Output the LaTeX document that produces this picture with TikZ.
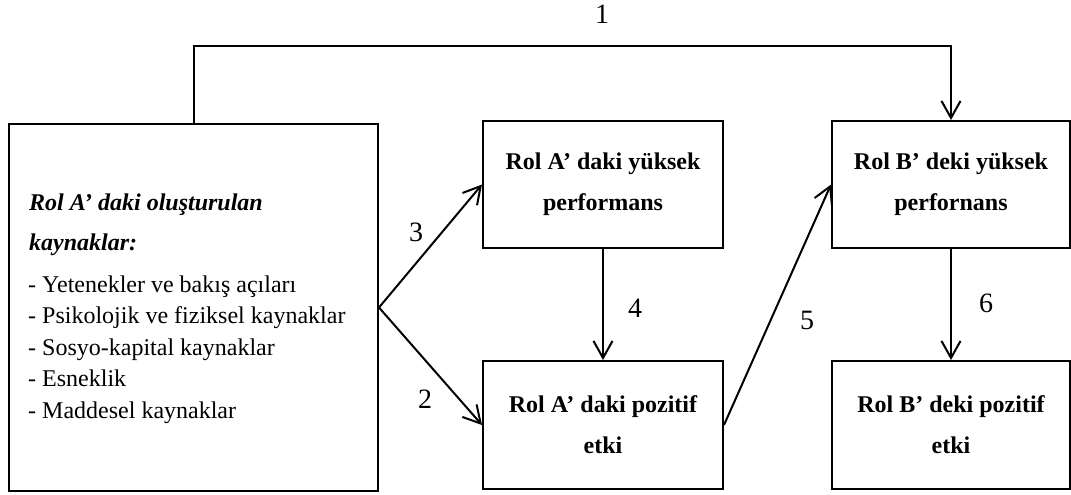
\documentclass[tikz,border=0pt]{standalone}
\usepackage{fontspec}
\setmainfont{Liberation Serif}
\usetikzlibrary{arrows.meta}
\begin{document}
\begin{tikzpicture}[x=1pt,y=-1pt,
  box/.style={draw, line width=2pt, inner sep=0pt, align=center, font=\fontsize{24}{41}\selectfont\bfseries},
  conn/.style={line width=2pt, -{Straight Barb[length=17pt,width=19pt,line width=2pt]}},
  lbl/.style={inner sep=0pt, font=\fontsize{28}{30}\selectfont},
  txt/.style={inner sep=0pt, anchor=base west, font=\fontsize{24}{30}\selectfont}]
\useasboundingbox (0,0) rectangle (1071,495);
% boxes
\node[box, minimum width=369pt, minimum height=367pt] (L) at (193.5,307.5) {};
\node[box, minimum width=240pt, minimum height=127pt] (AH) at (603,184.5) {Rol A’ daki yüksek\\performans};
\node[box, minimum width=240pt, minimum height=128pt] (AP) at (603,425) {Rol A’ daki pozitif\\etki};
\node[box, minimum width=238pt, minimum height=127pt] (BH) at (951,184.5) {Rol B’ deki yüksek\\perfornans};
\node[box, minimum width=238pt, minimum height=128pt] (BP) at (951,425) {Rol B’ deki pozitif\\etki};
% left box text
\node[txt, font=\fontsize{24}{30}\selectfont\bfseries\itshape] (t1) at (29,210) {Rol A’ daki oluşturulan};
\node[txt, font=\fontsize{24}{30}\selectfont\bfseries\itshape] (t2) at (29,250) {kaynaklar:};
\node[txt] (t3) at (28,292) {- Yetenekler ve bakış açıları};
\node[txt] (t4) at (28,323.5) {- Psikolojik ve fiziksel kaynaklar};
\node[txt] (t5) at (28,355) {- Sosyo-kapital kaynaklar};
\node[txt] (t6) at (28,386.5) {- Esneklik};
\node[txt] (t7) at (28,418) {- Maddesel kaynaklar};
% connectors
\coordinate (top) at (0,46);
\draw[conn] (L.north) |- (top -| BH.north) -- (BH.north);
\draw[conn] (L.east) -- (AH.west);
\draw[conn] (L.east) -- (AP.west);
\draw[conn] (AH.south) -- (AP.north);
\draw[conn] (AP.east) -- (BH.west);
\draw[conn] (BH.south) -- (BP.north);
% labels
\node[lbl] (n1) at (602,14) {1};
\node[lbl] (n2) at (425,399) {2};
\node[lbl] (n3) at (416,232) {3};
\node[lbl] (n4) at (635,308) {4};
\node[lbl] (n5) at (807,320) {5};
\node[lbl] (n6) at (986,303) {6};
\end{tikzpicture}
\end{document}
